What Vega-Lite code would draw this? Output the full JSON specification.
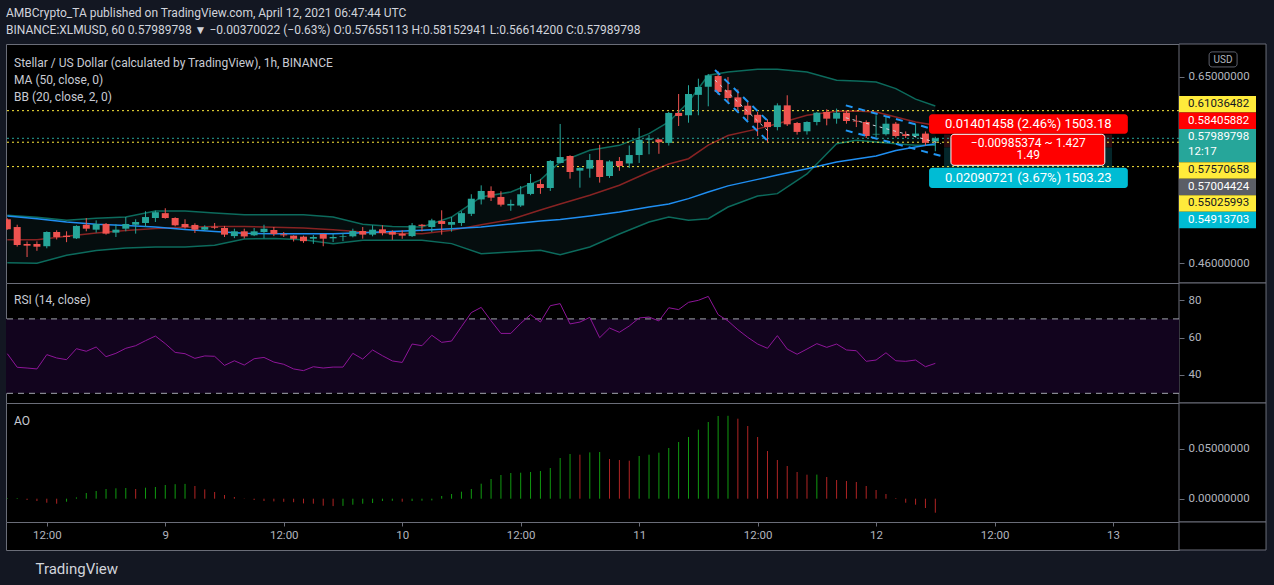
{
"$schema":"https://vega.github.io/schema/vega-lite/v6.json",
"background":"#131722",
"padding":{"left":3,"top":7,"right":7,"bottom":12},
"autosize":{"type":"pad"},
"bounds":"flush",
"spacing":0,
"title":{"text":"AMBCrypto_TA published on TradingView.com, April 12, 2021 06:47:44 UTC","subtitle":"BINANCE:XLMUSD, 60  0.57989798 ▼ −0.00370022 (−0.63%)  O:0.57655113  H:0.58152941  L:0.56614200  C:0.57989798","anchor":"start","frame":"group","fontSize":12,"subtitleFontSize":12,"fontWeight":"normal","subtitlePadding":5,"offset":6,"color":"#d1d4dc","subtitleColor":"#d1d4dc","font":"Roboto","subtitleFont":"Roboto"},
"config":{
 "font":"Roboto",
 "view":{"stroke":"#6a6d78","strokeWidth":1,"fill":"#000000"},
 "bar":{"continuousBandSize":7},
 "scale":{"continuousPadding":0},
 "axis":{"grid":false,"domain":false,"labelColor":"#b2b5be","tickColor":"#6a6d78","tickSize":5,"labelFont":"Roboto","zindex":1}
},
"datasets":{
 "gutter":[{"t0":"2021-04-13T06:41Z","t1":"2021-04-13T15:30Z"}],
 "candles":[
{"t":"2021-04-08T08:00Z","o":0.4991,"h":0.5000,"l":0.4895,"c":0.4900,"rsi":51.3,"ao":0.0006,"aod":"up"},
{"t":"2021-04-08T09:00Z","o":0.4920,"h":0.4941,"l":0.4745,"c":0.4759,"rsi":44.0,"ao":0.0007,"aod":"up"},
{"t":"2021-04-08T10:00Z","o":0.4768,"h":0.4790,"l":0.4654,"c":0.4753,"rsi":43.6,"ao":-0.0013,"aod":"down"},
{"t":"2021-04-08T11:00Z","o":0.4768,"h":0.4791,"l":0.4708,"c":0.4744,"rsi":43.1,"ao":-0.0023,"aod":"down"},
{"t":"2021-04-08T12:00Z","o":0.4748,"h":0.4881,"l":0.4730,"c":0.4875,"rsi":50.8,"ao":-0.0040,"aod":"down"},
{"t":"2021-04-08T13:00Z","o":0.4875,"h":0.4890,"l":0.4808,"c":0.4830,"rsi":49.0,"ao":-0.0050,"aod":"down"},
{"t":"2021-04-08T14:00Z","o":0.4841,"h":0.4881,"l":0.4784,"c":0.4830,"rsi":48.1,"ao":-0.0030,"aod":"up"},
{"t":"2021-04-08T15:00Z","o":0.4818,"h":0.4936,"l":0.4812,"c":0.4930,"rsi":54.0,"ao":0.0013,"aod":"up"},
{"t":"2021-04-08T16:00Z","o":0.4941,"h":0.5002,"l":0.4881,"c":0.4905,"rsi":52.6,"ao":0.0057,"aod":"up"},
{"t":"2021-04-08T17:00Z","o":0.4896,"h":0.4981,"l":0.4869,"c":0.4948,"rsi":54.9,"ao":0.0077,"aod":"up"},
{"t":"2021-04-08T18:00Z","o":0.4948,"h":0.4957,"l":0.4851,"c":0.4860,"rsi":49.7,"ao":0.0097,"aod":"up"},
{"t":"2021-04-08T19:00Z","o":0.4869,"h":0.4945,"l":0.4830,"c":0.4896,"rsi":51.5,"ao":0.0104,"aod":"up"},
{"t":"2021-04-08T20:00Z","o":0.4905,"h":0.5012,"l":0.4881,"c":0.4948,"rsi":54.2,"ao":0.0107,"aod":"up"},
{"t":"2021-04-08T21:00Z","o":0.4941,"h":0.4991,"l":0.4860,"c":0.4966,"rsi":55.6,"ao":0.0097,"aod":"down"},
{"t":"2021-04-08T22:00Z","o":0.4957,"h":0.5066,"l":0.4920,"c":0.5012,"rsi":58.3,"ao":0.0110,"aod":"up"},
{"t":"2021-04-08T23:00Z","o":0.5003,"h":0.5072,"l":0.4966,"c":0.5057,"rsi":60.8,"ao":0.0117,"aod":"up"},
{"t":"2021-04-09T00:00Z","o":0.5048,"h":0.5094,"l":0.4996,"c":0.5003,"rsi":56.7,"ao":0.0137,"aod":"up"},
{"t":"2021-04-09T01:00Z","o":0.5003,"h":0.5010,"l":0.4926,"c":0.4936,"rsi":52.0,"ao":0.0145,"aod":"up"},
{"t":"2021-04-09T02:00Z","o":0.4948,"h":0.4991,"l":0.4905,"c":0.4920,"rsi":51.3,"ao":0.0148,"aod":"up"},
{"t":"2021-04-09T03:00Z","o":0.4939,"h":0.4954,"l":0.4866,"c":0.4896,"rsi":48.8,"ao":0.0127,"aod":"down"},
{"t":"2021-04-09T04:00Z","o":0.4896,"h":0.4936,"l":0.4887,"c":0.4920,"rsi":50.1,"ao":0.0093,"aod":"down"},
{"t":"2021-04-09T05:00Z","o":0.4923,"h":0.4957,"l":0.4900,"c":0.4914,"rsi":49.9,"ao":0.0067,"aod":"down"},
{"t":"2021-04-09T06:00Z","o":0.4911,"h":0.4930,"l":0.4830,"c":0.4851,"rsi":45.0,"ao":0.0037,"aod":"down"},
{"t":"2021-04-09T07:00Z","o":0.4838,"h":0.4905,"l":0.4820,"c":0.4881,"rsi":47.5,"ao":0.0017,"aod":"down"},
{"t":"2021-04-09T08:00Z","o":0.4881,"h":0.4905,"l":0.4817,"c":0.4835,"rsi":45.2,"ao":0.0003,"aod":"down"},
{"t":"2021-04-09T09:00Z","o":0.4845,"h":0.4911,"l":0.4838,"c":0.4881,"rsi":48.6,"ao":-0.0013,"aod":"down"},
{"t":"2021-04-09T10:00Z","o":0.4875,"h":0.4941,"l":0.4818,"c":0.4905,"rsi":49.3,"ao":-0.0023,"aod":"down"},
{"t":"2021-04-09T11:00Z","o":0.4893,"h":0.4920,"l":0.4838,"c":0.4857,"rsi":46.8,"ao":-0.0027,"aod":"down"},
{"t":"2021-04-09T12:00Z","o":0.4854,"h":0.4875,"l":0.4830,"c":0.4845,"rsi":45.6,"ao":-0.0031,"aod":"down"},
{"t":"2021-04-09T13:00Z","o":0.4842,"h":0.4845,"l":0.4790,"c":0.4814,"rsi":43.1,"ao":-0.0035,"aod":"down"},
{"t":"2021-04-09T14:00Z","o":0.4833,"h":0.4842,"l":0.4778,"c":0.4793,"rsi":42.2,"ao":-0.0047,"aod":"down"},
{"t":"2021-04-09T15:00Z","o":0.4815,"h":0.4848,"l":0.4769,"c":0.4830,"rsi":44.3,"ao":-0.0050,"aod":"down"},
{"t":"2021-04-09T16:00Z","o":0.4857,"h":0.4860,"l":0.4748,"c":0.4815,"rsi":43.6,"ao":-0.0070,"aod":"down"},
{"t":"2021-04-09T17:00Z","o":0.4818,"h":0.4860,"l":0.4784,"c":0.4830,"rsi":44.1,"ao":-0.0074,"aod":"down"},
{"t":"2021-04-09T18:00Z","o":0.4830,"h":0.4866,"l":0.4793,"c":0.4836,"rsi":44.1,"ao":-0.0072,"aod":"up"},
{"t":"2021-04-09T19:00Z","o":0.4836,"h":0.4905,"l":0.4827,"c":0.4884,"rsi":51.5,"ao":-0.0060,"aod":"up"},
{"t":"2021-04-09T20:00Z","o":0.4884,"h":0.4920,"l":0.4815,"c":0.4851,"rsi":48.4,"ao":-0.0050,"aod":"up"},
{"t":"2021-04-09T21:00Z","o":0.4851,"h":0.4936,"l":0.4836,"c":0.4896,"rsi":53.3,"ao":-0.0043,"aod":"up"},
{"t":"2021-04-09T22:00Z","o":0.4899,"h":0.4936,"l":0.4845,"c":0.4866,"rsi":50.2,"ao":-0.0023,"aod":"up"},
{"t":"2021-04-09T23:00Z","o":0.4875,"h":0.4890,"l":0.4805,"c":0.4851,"rsi":47.4,"ao":-0.0021,"aod":"up"},
{"t":"2021-04-10T00:00Z","o":0.4860,"h":0.4890,"l":0.4814,"c":0.4842,"rsi":46.6,"ao":-0.0030,"aod":"down"},
{"t":"2021-04-10T01:00Z","o":0.4838,"h":0.4957,"l":0.4830,"c":0.4936,"rsi":56.5,"ao":-0.0023,"aod":"up"},
{"t":"2021-04-10T02:00Z","o":0.4941,"h":0.4948,"l":0.4881,"c":0.4930,"rsi":55.6,"ao":-0.0020,"aod":"up"},
{"t":"2021-04-10T03:00Z","o":0.4920,"h":0.4996,"l":0.4875,"c":0.4981,"rsi":61.2,"ao":-0.0017,"aod":"up"},
{"t":"2021-04-10T04:00Z","o":0.4975,"h":0.5075,"l":0.4851,"c":0.4948,"rsi":57.4,"ao":0.0027,"aod":"up"},
{"t":"2021-04-10T05:00Z","o":0.4941,"h":0.5012,"l":0.4878,"c":0.4966,"rsi":58.1,"ao":0.0047,"aod":"up"},
{"t":"2021-04-10T06:00Z","o":0.4957,"h":0.5066,"l":0.4930,"c":0.5048,"rsi":65.8,"ao":0.0070,"aod":"up"},
{"t":"2021-04-10T07:00Z","o":0.5042,"h":0.5228,"l":0.5021,"c":0.5185,"rsi":73.4,"ao":0.0097,"aod":"up"},
{"t":"2021-04-10T08:00Z","o":0.5178,"h":0.5315,"l":0.5130,"c":0.5260,"rsi":76.2,"ao":0.0150,"aod":"up"},
{"t":"2021-04-10T09:00Z","o":0.5260,"h":0.5305,"l":0.5163,"c":0.5195,"rsi":69.0,"ao":0.0197,"aod":"up"},
{"t":"2021-04-10T10:00Z","o":0.5202,"h":0.5257,"l":0.5111,"c":0.5128,"rsi":62.2,"ao":0.0237,"aod":"up"},
{"t":"2021-04-10T11:00Z","o":0.5120,"h":0.5176,"l":0.5070,"c":0.5135,"rsi":62.2,"ao":0.0257,"aod":"up"},
{"t":"2021-04-10T12:00Z","o":0.5120,"h":0.5308,"l":0.5107,"c":0.5228,"rsi":67.6,"ao":0.0260,"aod":"up"},
{"t":"2021-04-10T13:00Z","o":0.5231,"h":0.5428,"l":0.5219,"c":0.5338,"rsi":72.3,"ao":0.0267,"aod":"up"},
{"t":"2021-04-10T14:00Z","o":0.5328,"h":0.5375,"l":0.5232,"c":0.5289,"rsi":68.3,"ao":0.0277,"aod":"up"},
{"t":"2021-04-10T15:00Z","o":0.5289,"h":0.5570,"l":0.5260,"c":0.5560,"rsi":77.1,"ao":0.0307,"aod":"up"},
{"t":"2021-04-10T16:00Z","o":0.5540,"h":0.5955,"l":0.5535,"c":0.5601,"rsi":78.2,"ao":0.0407,"aod":"up"},
{"t":"2021-04-10T17:00Z","o":0.5612,"h":0.5620,"l":0.5381,"c":0.5448,"rsi":67.3,"ao":0.0447,"aod":"up"},
{"t":"2021-04-10T18:00Z","o":0.5462,"h":0.5495,"l":0.5292,"c":0.5489,"rsi":68.3,"ao":0.0440,"aod":"down"},
{"t":"2021-04-10T19:00Z","o":0.5482,"h":0.5633,"l":0.5391,"c":0.5570,"rsi":70.8,"ao":0.0463,"aod":"up"},
{"t":"2021-04-10T20:00Z","o":0.5570,"h":0.5730,"l":0.5342,"c":0.5398,"rsi":59.9,"ao":0.0467,"aod":"up"},
{"t":"2021-04-10T21:00Z","o":0.5408,"h":0.5568,"l":0.5389,"c":0.5556,"rsi":65.1,"ao":0.0397,"aod":"down"},
{"t":"2021-04-10T22:00Z","o":0.5560,"h":0.5601,"l":0.5460,"c":0.5509,"rsi":62.8,"ao":0.0387,"aod":"down"},
{"t":"2021-04-10T23:00Z","o":0.5535,"h":0.5722,"l":0.5489,"c":0.5622,"rsi":66.2,"ao":0.0380,"aod":"down"},
{"t":"2021-04-11T00:00Z","o":0.5622,"h":0.5911,"l":0.5540,"c":0.5784,"rsi":70.5,"ao":0.0427,"aod":"up"},
{"t":"2021-04-11T01:00Z","o":0.5784,"h":0.5834,"l":0.5630,"c":0.5797,"rsi":71.0,"ao":0.0440,"aod":"up"},
{"t":"2021-04-11T02:00Z","o":0.5787,"h":0.5790,"l":0.5635,"c":0.5757,"rsi":68.9,"ao":0.0460,"aod":"up"},
{"t":"2021-04-11T03:00Z","o":0.5750,"h":0.6089,"l":0.5722,"c":0.6078,"rsi":76.0,"ao":0.0507,"aod":"up"},
{"t":"2021-04-11T04:00Z","o":0.6078,"h":0.6295,"l":0.5933,"c":0.6044,"rsi":75.0,"ao":0.0567,"aod":"up"},
{"t":"2021-04-11T05:00Z","o":0.6052,"h":0.6398,"l":0.5969,"c":0.6295,"rsi":78.9,"ao":0.0617,"aod":"up"},
{"t":"2021-04-11T06:00Z","o":0.6285,"h":0.6476,"l":0.6052,"c":0.6377,"rsi":80.0,"ao":0.0690,"aod":"up"},
{"t":"2021-04-11T07:00Z","o":0.6380,"h":0.6533,"l":0.6153,"c":0.6517,"rsi":82.1,"ao":0.0767,"aod":"up"},
{"t":"2021-04-11T08:00Z","o":0.6508,"h":0.6566,"l":0.6286,"c":0.6319,"rsi":72.3,"ao":0.0827,"aod":"up"},
{"t":"2021-04-11T09:00Z","o":0.6340,"h":0.6496,"l":0.6187,"c":0.6248,"rsi":68.9,"ao":0.0829,"aod":"up"},
{"t":"2021-04-11T10:00Z","o":0.6256,"h":0.6349,"l":0.6089,"c":0.6146,"rsi":64.2,"ao":0.0800,"aod":"down"},
{"t":"2021-04-11T11:00Z","o":0.6160,"h":0.6215,"l":0.5998,"c":0.6057,"rsi":60.1,"ao":0.0727,"aod":"down"},
{"t":"2021-04-11T12:00Z","o":0.6057,"h":0.6089,"l":0.5824,"c":0.5969,"rsi":56.5,"ao":0.0617,"aod":"down"},
{"t":"2021-04-11T13:00Z","o":0.5977,"h":0.6007,"l":0.5759,"c":0.5921,"rsi":54.2,"ao":0.0477,"aod":"down"},
{"t":"2021-04-11T14:00Z","o":0.5921,"h":0.6187,"l":0.5885,"c":0.6164,"rsi":61.0,"ao":0.0387,"aod":"down"},
{"t":"2021-04-11T15:00Z","o":0.6164,"h":0.6280,"l":0.5933,"c":0.5951,"rsi":53.8,"ao":0.0327,"aod":"down"},
{"t":"2021-04-11T16:00Z","o":0.5966,"h":0.5977,"l":0.5839,"c":0.5868,"rsi":51.0,"ao":0.0267,"aod":"down"},
{"t":"2021-04-11T17:00Z","o":0.5875,"h":0.5985,"l":0.5839,"c":0.5977,"rsi":53.8,"ao":0.0240,"aod":"down"},
{"t":"2021-04-11T18:00Z","o":0.5977,"h":0.6089,"l":0.5940,"c":0.6081,"rsi":56.7,"ao":0.0241,"aod":"up"},
{"t":"2021-04-11T19:00Z","o":0.6089,"h":0.6119,"l":0.5940,"c":0.6014,"rsi":54.7,"ao":0.0217,"aod":"down"},
{"t":"2021-04-11T20:00Z","o":0.6014,"h":0.6127,"l":0.5958,"c":0.6081,"rsi":56.5,"ao":0.0187,"aod":"down"},
{"t":"2021-04-11T21:00Z","o":0.6081,"h":0.6104,"l":0.5958,"c":0.5988,"rsi":53.3,"ao":0.0177,"aod":"down"},
{"t":"2021-04-11T22:00Z","o":0.5990,"h":0.6052,"l":0.5921,"c":0.5982,"rsi":52.9,"ao":0.0167,"aod":"down"},
{"t":"2021-04-11T23:00Z","o":0.5977,"h":0.5995,"l":0.5802,"c":0.5824,"rsi":47.2,"ao":0.0127,"aod":"down"},
{"t":"2021-04-12T00:00Z","o":0.5840,"h":0.6052,"l":0.5808,"c":0.5847,"rsi":47.9,"ao":0.0087,"aod":"down"},
{"t":"2021-04-12T01:00Z","o":0.5843,"h":0.6033,"l":0.5829,"c":0.5958,"rsi":51.8,"ao":0.0047,"aod":"down"},
{"t":"2021-04-12T02:00Z","o":0.5958,"h":0.5977,"l":0.5808,"c":0.5824,"rsi":47.5,"ao":0.0007,"aod":"down"},
{"t":"2021-04-12T03:00Z","o":0.5843,"h":0.5873,"l":0.5802,"c":0.5824,"rsi":47.2,"ao":-0.0040,"aod":"down"},
{"t":"2021-04-12T04:00Z","o":0.5824,"h":0.5958,"l":0.5808,"c":0.5850,"rsi":47.9,"ao":-0.0060,"aod":"down"},
{"t":"2021-04-12T05:00Z","o":0.5850,"h":0.5873,"l":0.5722,"c":0.5751,"rsi":44.3,"ao":-0.0093,"aod":"down"},
{"t":"2021-04-12T06:00Z","o":0.57655113,"h":0.58152941,"l":0.566142,"c":0.57989798,"rsi":46.1,"ao":-0.0140,"aod":"down"}
 ],
 "bands":[
{"t":"2021-04-08T08:00Z","upper":0.5028,"lower":0.4605,"basis":0.4806,"ma":0.5021},
{"t":"2021-04-08T11:00Z","upper":0.5010,"lower":0.4600,"basis":0.4806,"ma":0.4996},
{"t":"2021-04-08T14:00Z","upper":0.4982,"lower":0.4669,"basis":0.4836,"ma":0.4966},
{"t":"2021-04-08T17:00Z","upper":0.5000,"lower":0.4711,"basis":0.4866,"ma":0.4945},
{"t":"2021-04-08T20:00Z","upper":0.5012,"lower":0.4733,"basis":0.4889,"ma":0.4934},
{"t":"2021-04-08T23:00Z","upper":0.5068,"lower":0.4742,"basis":0.4907,"ma":0.4920},
{"t":"2021-04-09T02:00Z","upper":0.5068,"lower":0.4742,"basis":0.4918,"ma":0.4898},
{"t":"2021-04-09T05:00Z","upper":0.5050,"lower":0.4757,"basis":0.4924,"ma":0.4880},
{"t":"2021-04-09T08:00Z","upper":0.5034,"lower":0.4813,"basis":0.4925,"ma":0.4863},
{"t":"2021-04-09T11:00Z","upper":0.5034,"lower":0.4817,"basis":0.4918,"ma":0.4860},
{"t":"2021-04-09T14:00Z","upper":0.5034,"lower":0.4806,"basis":0.4911,"ma":0.4860},
{"t":"2021-04-09T17:00Z","upper":0.5012,"lower":0.4771,"basis":0.4896,"ma":0.4860},
{"t":"2021-04-09T20:00Z","upper":0.4945,"lower":0.4801,"basis":0.4875,"ma":0.4869},
{"t":"2021-04-09T23:00Z","upper":0.4925,"lower":0.4801,"basis":0.4863,"ma":0.4879},
{"t":"2021-04-10T02:00Z","upper":0.4920,"lower":0.4801,"basis":0.4860,"ma":0.4890},
{"t":"2021-04-10T05:00Z","upper":0.5012,"lower":0.4771,"basis":0.4890,"ma":0.4905},
{"t":"2021-04-10T08:00Z","upper":0.5202,"lower":0.4683,"basis":0.4941,"ma":0.4920},
{"t":"2021-04-10T11:00Z","upper":0.5250,"lower":0.4698,"basis":0.4989,"ma":0.4948},
{"t":"2021-04-10T14:00Z","upper":0.5369,"lower":0.4713,"basis":0.5078,"ma":0.4975},
{"t":"2021-04-10T16:00Z","upper":0.5550,"lower":0.4674,"basis":0.5135,"ma":0.4989},
{"t":"2021-04-10T19:00Z","upper":0.5672,"lower":0.4742,"basis":0.5218,"ma":0.5021},
{"t":"2021-04-10T22:00Z","upper":0.5724,"lower":0.4857,"basis":0.5316,"ma":0.5059},
{"t":"2021-04-11T01:00Z","upper":0.5849,"lower":0.4966,"basis":0.5448,"ma":0.5106},
{"t":"2021-04-11T03:00Z","upper":0.5977,"lower":0.5012,"basis":0.5529,"ma":0.5135},
{"t":"2021-04-11T05:00Z","upper":0.6202,"lower":0.4982,"basis":0.5584,"ma":0.5186},
{"t":"2021-04-11T07:00Z","upper":0.6517,"lower":0.4996,"basis":0.5727,"ma":0.5250},
{"t":"2021-04-11T09:00Z","upper":0.6557,"lower":0.5106,"basis":0.5829,"ma":0.5310},
{"t":"2021-04-11T12:00Z","upper":0.6590,"lower":0.5211,"basis":0.5901,"ma":0.5374},
{"t":"2021-04-11T14:00Z","upper":0.6590,"lower":0.5234,"basis":0.5958,"ma":0.5418},
{"t":"2021-04-11T17:00Z","upper":0.6557,"lower":0.5428,"basis":0.6052,"ma":0.5481},
{"t":"2021-04-11T20:00Z","upper":0.6457,"lower":0.5741,"basis":0.6097,"ma":0.5550},
{"t":"2021-04-11T22:00Z","upper":0.6448,"lower":0.5777,"basis":0.6100,"ma":0.5581},
{"t":"2021-04-12T00:00Z","upper":0.6437,"lower":0.5759,"basis":0.6089,"ma":0.5612},
{"t":"2021-04-12T02:00Z","upper":0.6358,"lower":0.5741,"basis":0.6033,"ma":0.5670},
{"t":"2021-04-12T04:00Z","upper":0.6236,"lower":0.5724,"basis":0.5977,"ma":0.5707},
{"t":"2021-04-12T06:00Z","upper":0.6156,"lower":0.5724,"basis":0.5940,"ma":0.5741}
 ],
 "hlines":[{"p":0.61036482,"kind":"level"},{"p":0.57570658,"kind":"level"},{"p":0.55025993,"kind":"level"},{"p":0.57989798,"kind":"last"}],
 "channels":[
{"seg":"c1u","t":"2021-04-11T07:41Z","p":0.6581},{"seg":"c1u","t":"2021-04-11T13:09Z","p":0.5977},
{"seg":"c1l","t":"2021-04-11T07:41Z","p":0.6342},{"seg":"c1l","t":"2021-04-11T13:09Z","p":0.5759},
{"seg":"c2u","t":"2021-04-11T20:56Z","p":0.6164},{"seg":"c2u","t":"2021-04-12T06:35Z","p":0.5875},
{"seg":"c2l","t":"2021-04-11T20:56Z","p":0.5885},{"seg":"c2l","t":"2021-04-12T06:35Z","p":0.5612}
 ],
 "channelMids":[
{"seg":"c1m","t":"2021-04-11T07:41Z","p":0.6460},{"seg":"c1m","t":"2021-04-11T13:09Z","p":0.5868},
{"seg":"c2m","t":"2021-04-11T20:56Z","p":0.6024},{"seg":"c2m","t":"2021-04-12T06:35Z","p":0.5742}
 ],
 "position":[
{"t0":"2021-04-12T06:53Z","t1":"2021-04-12T23:54Z","p0":0.57004424,"p1":0.58405882,"kind":"risk"},
{"t0":"2021-04-12T06:53Z","t1":"2021-04-12T23:54Z","p0":0.54913703,"p1":0.57004424,"kind":"reward"}
 ],
 "posBoxes":[
{"t0":"2021-04-12T05:22Z","t1":"2021-04-13T01:30Z","p0":0.5849,"p1":0.6062,"kind":"riskbox"},
{"t0":"2021-04-12T07:35Z","t1":"2021-04-12T23:10Z","p0":0.5516,"p1":0.5842,"kind":"midbox"},
{"t0":"2021-04-12T05:22Z","t1":"2021-04-13T01:30Z","p0":0.5290,"p1":0.5491,"kind":"rewardbox"}
 ],
 "posTexts":[
{"t":"2021-04-12T15:25Z","p":0.5955,"size":"big","text":"0.01401458 (2.46%) 1503.18"},
{"t":"2021-04-12T15:25Z","p":0.5752,"size":"small","text":"−0.00985374 ~ 1.427"},
{"t":"2021-04-12T15:25Z","p":0.5618,"size":"small","text":"1.49"},
{"t":"2021-04-12T15:25Z","p":0.5389,"size":"big","text":"0.02090721 (3.67%) 1503.23"}
 ],
 "tags":[
{"label":"0.61036482","kind":"level","s0":-0.5,"s1":0.5},
{"label":"0.58405882","kind":"stop","s0":0.5,"s1":1.5},
{"label":"0.57989798","kind":"last","s0":1.5,"s1":3.5},
{"label":"0.57570658","kind":"level","s0":3.5,"s1":4.5},
{"label":"0.57004424","kind":"entry","s0":4.5,"s1":5.5},
{"label":"0.55025993","kind":"level","s0":5.5,"s1":6.5},
{"label":"0.54913703","kind":"target","s0":6.5,"s1":7.5}
 ],
 "tagTexts":[
{"label":"0.61036482","kind":"level","s":0},
{"label":"0.58405882","kind":"stop","s":1},
{"label":"0.57989798","kind":"last","s":2},
{"label":"12:17","kind":"last","s":2.9},
{"label":"0.57570658","kind":"level","s":4},
{"label":"0.57004424","kind":"entry","s":5},
{"label":"0.55025993","kind":"level","s":6},
{"label":"0.54913703","kind":"target","s":7}
 ]
},
"vconcat":[
{
 "width":1173,"height":239,
 "title":{"text":["Stellar / US Dollar (calculated by TradingView), 1h, BINANCE","MA (50, close, 0)","BB (20, close, 2, 0)"],"anchor":"start","frame":"group","offset":-60,"baseline":"top","dx":8,"fontSize":12,"fontWeight":"normal","color":"#c8cbd3","lineHeight":17},
 "resolve":{"scale":{"y":"independent"}},
 "layer":[
  {"layer":[
   {"data":{"name":"gutter"},"mark":{"type":"rect","fill":"#000000","stroke":"#6a6d78","strokeWidth":1,"clip":false},
    "encoding":{"x":{"field":"t0","type":"temporal","axis":null,"scale":{"type":"utc","nice":false,"padding":0,"domain":[{"year":2021,"month":4,"date":8,"hours":7,"minutes":52,"utc":true},{"year":2021,"month":4,"date":13,"hours":6,"minutes":41,"utc":true}]}},"x2":{"field":"t1"}}},
   {"data":{"name":"bands"},"mark":{"type":"area","color":"#050d0e"},
    "encoding":{"x":{"field":"t","type":"temporal"},"y":{"field":"upper","type":"quantitative","scale":{"type":"log","domain":[0.44354,0.6906],"nice":false,"zero":false},"axis":{"orient":"right","values":[0.46,0.65],"format":".8f","title":null,"labelFontSize":11.5,"labelPadding":4,"zindex":2}},"y2":{"field":"lower"}}},
   {"data":{"name":"bands"},"mark":{"type":"line","color":"#0c6a5c","strokeWidth":1.5},"encoding":{"x":{"field":"t","type":"temporal"},"y":{"field":"upper","type":"quantitative"}}},
   {"data":{"name":"bands"},"mark":{"type":"line","color":"#0c6a5c","strokeWidth":1.5},"encoding":{"x":{"field":"t","type":"temporal"},"y":{"field":"lower","type":"quantitative"}}},
   {"data":{"name":"bands"},"mark":{"type":"line","color":"#872323","strokeWidth":1.5},"encoding":{"x":{"field":"t","type":"temporal"},"y":{"field":"basis","type":"quantitative"}}},
   {"data":{"name":"bands"},"mark":{"type":"line","color":"#1f8ef1","strokeWidth":1.5},"encoding":{"x":{"field":"t","type":"temporal"},"y":{"field":"ma","type":"quantitative"}}},
   {"data":{"name":"position"},"mark":{"type":"rect"},
    "encoding":{"x":{"field":"t0","type":"temporal"},"x2":{"field":"t1"},"y":{"field":"p0","type":"quantitative"},"y2":{"field":"p1"},
     "fill":{"field":"kind","type":"nominal","legend":null,"scale":{"domain":["level","stop","last","entry","target","risk","reward","riskbox","midbox","rewardbox"],"range":["#FFEB3B","#FF0000","#26A69A","#5b5e66","#00BCD4","#2d0c10","#04262a","#FF0000","#FF0000","#00BCD4"]}}}},
   {"data":{"name":"hlines"},"mark":{"type":"rule","strokeDash":[2,3],"strokeWidth":1},
    "encoding":{"y":{"field":"p","type":"quantitative"},"stroke":{"field":"kind","type":"nominal","legend":null,"scale":{"domain":["level","last"],"range":["#FFEB3B","#26A69A"]}}}},
   {"data":{"name":"candles"},"mark":{"type":"rule","strokeWidth":1,"clip":true},
    "encoding":{"x":{"field":"t","type":"temporal"},"y":{"field":"l","type":"quantitative"},"y2":{"field":"h"},
     "color":{"condition":{"test":"datum.c >= datum.o","value":"#26A69A"},"value":"#EF5350"}}},
   {"data":{"name":"candles"},"mark":{"type":"bar","clip":true},
    "encoding":{"x":{"field":"t","type":"temporal"},"y":{"field":"o","type":"quantitative"},"y2":{"field":"c"},
     "color":{"condition":{"test":"datum.c >= datum.o","value":"#26A69A"},"value":"#EF5350"}}},
   {"data":{"name":"channels"},"mark":{"type":"line","color":"#2196F3","strokeWidth":2,"strokeDash":[7,6]},
    "encoding":{"x":{"field":"t","type":"temporal"},"y":{"field":"p","type":"quantitative"},"detail":{"field":"seg"}}},
   {"data":{"name":"channelMids"},"mark":{"type":"line","color":"#d1d4dc","strokeWidth":1,"strokeDash":[3,4]},
    "encoding":{"x":{"field":"t","type":"temporal"},"y":{"field":"p","type":"quantitative"},"detail":{"field":"seg"}}},
   {"data":{"name":"posBoxes"},"mark":{"type":"rect","cornerRadius":3},
    "encoding":{"x":{"field":"t0","type":"temporal"},"x2":{"field":"t1"},"y":{"field":"p0","type":"quantitative"},"y2":{"field":"p1"},
     "fill":{"field":"kind","type":"nominal","legend":null,"scale":{"domain":["level","stop","last","entry","target","risk","reward","riskbox","midbox","rewardbox"],"range":["#FFEB3B","#FF0000","#26A69A","#5b5e66","#00BCD4","#2d0c10","#04262a","#FF0000","#FF0000","#00BCD4"]}},
     "stroke":{"condition":{"test":"datum.kind == 'midbox'","value":"#ffffff"},"value":"transparent"}}},
   {"data":{"name":"posTexts"},"mark":{"type":"text","color":"#ffffff","align":"center","baseline":"middle"},
    "encoding":{"x":{"field":"t","type":"temporal"},"y":{"field":"p","type":"quantitative"},"text":{"field":"text"},
     "size":{"condition":{"test":"datum.size == 'big'","value":13},"value":12}}}
  ]},
  {"layer":[
   {"data":{"name":"tags"},"mark":{"type":"rect","clip":false},
    "encoding":{"x":{"datum":{"year":2021,"month":4,"date":13,"hours":6,"minutes":41,"utc":true},"type":"temporal"},"x2":{"datum":{"year":2021,"month":4,"date":13,"hours":14,"minutes":29,"utc":true}},
     "y":{"field":"s0","type":"quantitative","axis":null,"scale":{"domain":[-3.648,10.811],"reverse":true,"nice":false,"zero":false}},"y2":{"field":"s1"},
     "fill":{"field":"kind","type":"nominal","legend":null,"scale":{"domain":["level","stop","last","entry","target","risk","reward","riskbox","midbox","rewardbox"],"range":["#FFEB3B","#FF0000","#26A69A","#5b5e66","#00BCD4","#2d0c10","#04262a","#FF0000","#FF0000","#00BCD4"]}}}},
   {"data":{"name":"tagTexts"},"mark":{"type":"text","clip":false,"align":"left","baseline":"middle","fontSize":11.5},
    "encoding":{"x":{"datum":{"year":2021,"month":4,"date":13,"hours":7,"minutes":36,"utc":true},"type":"temporal"},
     "y":{"field":"s","type":"quantitative"},"text":{"field":"label"},
     "color":{"condition":{"test":"datum.kind == 'level'","value":"#131722"},"value":"#ffffff"}}},
   {"data":{"values":[{}]},"mark":{"type":"rect","clip":false,"fill":"#000000","stroke":"#5d606b","cornerRadius":3},
    "encoding":{"x":{"datum":{"year":2021,"month":4,"date":13,"hours":9,"minutes":44,"utc":true},"type":"temporal"},"x2":{"datum":{"year":2021,"month":4,"date":13,"hours":12,"minutes":34,"utc":true}},
     "y":{"datum":-3.17,"type":"quantitative"},"y2":{"datum":-2.26}}},
   {"data":{"values":[{}]},"mark":{"type":"text","clip":false,"align":"center","baseline":"middle","fontSize":10,"color":"#b2b5be","text":"USD"},
    "encoding":{"x":{"datum":{"year":2021,"month":4,"date":13,"hours":11,"minutes":9,"utc":true},"type":"temporal"},"y":{"datum":-2.71,"type":"quantitative"}}}
  ]}
 ]
},
{
 "width":1173,"height":120,
 "title":{"text":"RSI (14, close)","anchor":"start","frame":"group","offset":-24.5,"baseline":"top","dx":8,"fontSize":12,"fontWeight":"normal","color":"#c8cbd3"},
 "layer":[
  {"data":{"name":"gutter"},"mark":{"type":"rect","fill":"#000000","stroke":"#6a6d78","strokeWidth":1,"clip":false},
   "encoding":{"x":{"field":"t0","type":"temporal","axis":null,"scale":{"type":"utc","nice":false,"padding":0,"domain":[{"year":2021,"month":4,"date":8,"hours":7,"minutes":52,"utc":true},{"year":2021,"month":4,"date":13,"hours":6,"minutes":41,"utc":true}]}},"x2":{"field":"t1"}}},
  {"data":{"values":[{}]},"mark":{"type":"rect","color":"#12041e"},"encoding":{"y":{"datum":70,"type":"quantitative","scale":{"domain":[24.8,89.3],"nice":false,"zero":false},"axis":{"orient":"right","values":[40,60,80],"format":"d","title":null,"labelFontSize":11.5,"labelPadding":4,"zindex":2}},"y2":{"datum":30}}},
  {"data":{"values":[{}]},"mark":{"type":"rule","color":"#a3a6af","strokeDash":[6,5],"strokeWidth":1},"encoding":{"y":{"datum":70,"type":"quantitative"}}},
  {"data":{"values":[{}]},"mark":{"type":"rule","color":"#a3a6af","strokeDash":[6,5],"strokeWidth":1},"encoding":{"y":{"datum":30,"type":"quantitative"}}},
  {"data":{"name":"candles"},"mark":{"type":"line","color":"#8E1599","strokeWidth":1},
   "encoding":{"x":{"field":"t","type":"temporal"},"y":{"field":"rsi","type":"quantitative"}}}
 ]
},
{
 "width":1173,"height":119,
 "title":{"text":"AO","anchor":"start","frame":"group","offset":-25,"baseline":"top","dx":8,"fontSize":12,"fontWeight":"normal","color":"#c8cbd3"},
 "layer":[
  {"data":{"name":"gutter"},"mark":{"type":"rect","fill":"#000000","stroke":"#6a6d78","strokeWidth":1,"clip":false},
   "encoding":{"x":{"field":"t0","type":"temporal","axis":null,"scale":{"type":"utc","nice":false,"padding":0,"domain":[{"year":2021,"month":4,"date":8,"hours":7,"minutes":52,"utc":true},{"year":2021,"month":4,"date":13,"hours":6,"minutes":41,"utc":true}]}},"x2":{"field":"t1"}}},
  {"data":{"name":"candles"},"mark":{"type":"rule","strokeWidth":1},
   "encoding":{"x":{"field":"t","type":"temporal"},"y":{"field":"ao","type":"quantitative","scale":{"domain":[-0.0233,0.0957],"nice":false,"zero":false},"axis":{"orient":"right","values":[0,0.05],"format":".8f","title":null,"labelFontSize":11.5,"labelPadding":4,"zindex":2}},"y2":{"datum":0},
    "color":{"field":"aod","type":"nominal","legend":null,"scale":{"domain":["up","down"],"range":["#109a10","#b02424"]}}}}
 ]
},
{
 "width":1173,"height":28,
 "data":{"name":"gutter"},
 "mark":{"type":"rect","fill":"#000000","stroke":"#6a6d78","strokeWidth":1,"clip":false},
 "encoding":{
  "x":{"field":"t0","type":"temporal","scale":{"type":"utc","nice":false,"padding":0,"domain":[{"year":2021,"month":4,"date":8,"hours":7,"minutes":52,"utc":true},{"year":2021,"month":4,"date":13,"hours":6,"minutes":41,"utc":true}]},
   "axis":{"orient":"bottom","offset":-28,"domain":false,"grid":false,"tickSize":4,"tickColor":"#6a6d78","labelColor":"#b2b5be","labelFontSize":11.5,"labelPadding":3,"labelFlush":false,"labelOverlap":false,"labelBound":false,"zindex":2,
    "values":[{"year":2021,"month":4,"date":8,"hours":12,"utc":true},{"year":2021,"month":4,"date":9,"hours":0,"utc":true},{"year":2021,"month":4,"date":9,"hours":12,"utc":true},{"year":2021,"month":4,"date":10,"hours":0,"utc":true},{"year":2021,"month":4,"date":10,"hours":12,"utc":true},{"year":2021,"month":4,"date":11,"hours":0,"utc":true},{"year":2021,"month":4,"date":11,"hours":12,"utc":true},{"year":2021,"month":4,"date":12,"hours":0,"utc":true},{"year":2021,"month":4,"date":12,"hours":12,"utc":true},{"year":2021,"month":4,"date":13,"hours":0,"utc":true}],
    "labelExpr":"utchours(datum.value) == 12 ? '12:00' : utcFormat(datum.value, '%-d')",
    "title":"TradingView","titleAnchor":"start","titleAlign":"left","titleBaseline":"middle","titleX":29,"titleY":46,"titleColor":"#d1d4dc","titleFontSize":15,"titleFontWeight":"normal"}},
  "x2":{"field":"t1"}
 }
}
]
}
